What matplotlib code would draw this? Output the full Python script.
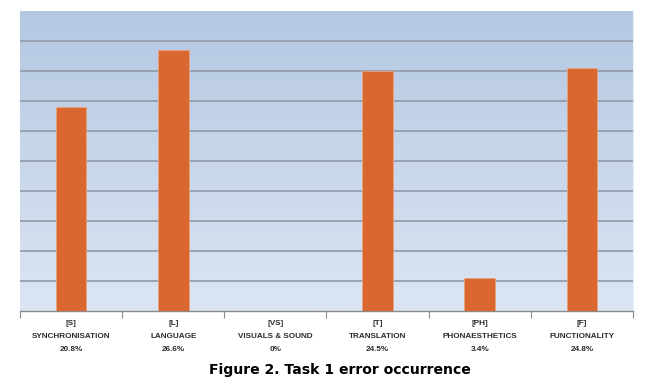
import numpy as np
import matplotlib
matplotlib.use('Agg')
import matplotlib.pyplot as plt

codes = ["[S]", "[L]", "[VS]", "[T]", "[PH]", "[F]"]
names = ["SYNCHRONISATION", "LANGUAGE", "VISUALS & SOUND",
         "TRANSLATION", "PHONAESTHETICS", "FUNCTIONALITY"]
shares = ["20.8%", "26.6%", "0%", "24.5%", "3.4%", "24.8%"]
counts = [68, 87, 0, 80, 11, 81]

fig = plt.figure(figsize=(6.47, 3.84), dpi=100)
ax = fig.add_axes([20 / 647, 73 / 384, 613 / 647, 300 / 384])

# gradient background of the plot area
grad = np.linspace(0, 1, 256).reshape(-1, 1)
top = np.array([180, 200, 226]) / 255
bot = np.array([220, 229, 243]) / 255
img = top + (bot - top) * grad[:, :, None]
ax.imshow(img, extent=[0, 1, 0, 1], transform=ax.transAxes,
          aspect='auto', zorder=0)

x = np.arange(len(codes))
ax.bar(x, counts, width=0.30, color='#d9672f', edgecolor='#e9a27c',
       linewidth=0.6, zorder=3)

ax.set_xlim(-0.5, len(codes) - 0.5)
ax.set_ylim(0, 100)
ax.set_yticks(np.arange(10, 100, 10))
ax.yaxis.grid(True, color='#959eab', linewidth=1.3, zorder=1)
ax.tick_params(axis='y', left=False, labelleft=False)

labels = [f"{c}\n{n}\n{s}" for c, n, s in zip(codes, names, shares)]
ax.set_xticks(x)
ax.set_xticklabels(labels, fontsize=5.9, fontweight='bold', color='#2b2b2b',
                   family='Liberation Sans', linespacing=2.2)
ax.tick_params(axis='x', length=0, pad=6.5)
ax.set_xticks(np.arange(-0.5, len(codes), 1.0), minor=True)
ax.tick_params(axis='x', which='minor', length=5, color='#8a8a8a', width=0.8)

for s in ['left', 'top']:
    ax.spines[s].set_visible(False)
ax.spines['right'].set_color('#e8eef7')
ax.spines['bottom'].set_color('#8a8a8a')
ax.spines['bottom'].set_linewidth(1.0)

fig.text(340 / 647, 1 - 370 / 384, "Figure 2. Task 1 error occurrence",
         ha='center', va='center', fontsize=10.1, fontweight='bold',
         family='DejaVu Sans')

fig.savefig('out.png', dpi=100)
